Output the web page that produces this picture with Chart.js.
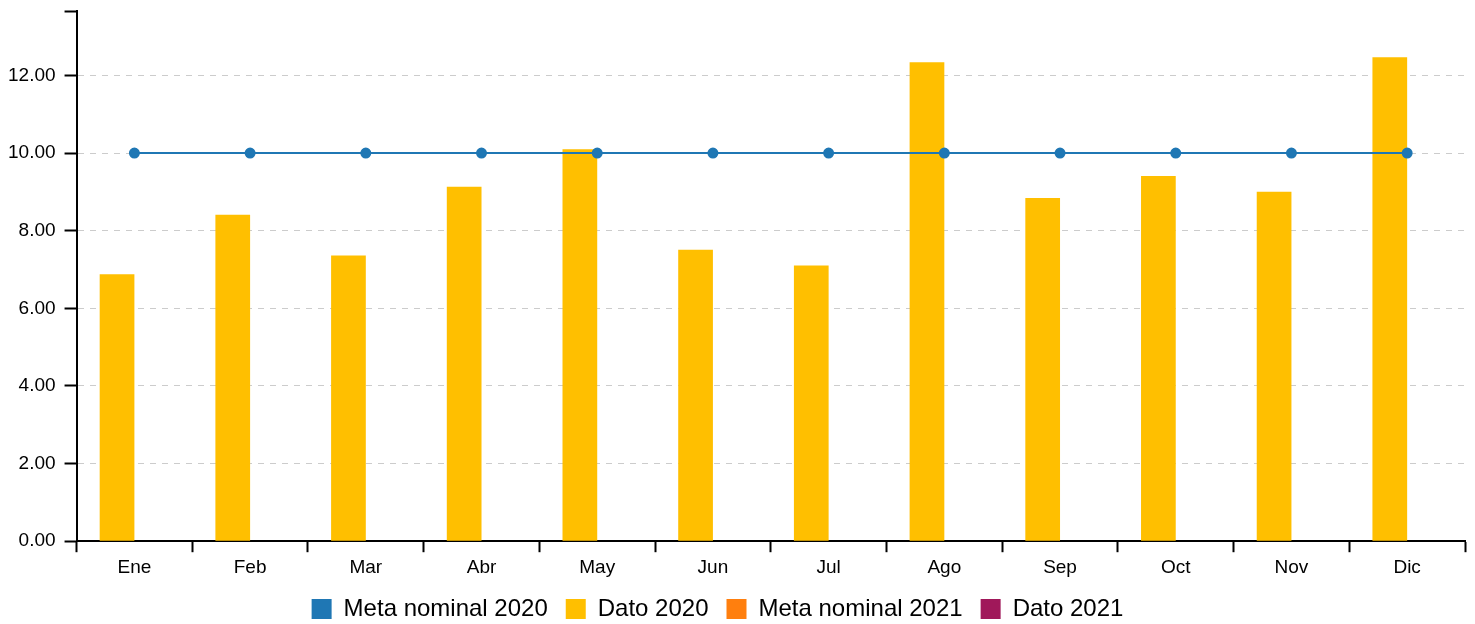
<!DOCTYPE html>
<html>
<head>
<meta charset="utf-8">
<script src="https://cdn.jsdelivr.net/npm/chart.js@4"></script>
<style>
  html, body { margin: 0; padding: 0; background: #fff; }
  #wrap { width: 1475px; height: 624px; }
</style>
</head>
<body>
<div id="wrap"><canvas id="metaChart"></canvas></div>
<script>
var meses = ['Ene', 'Feb', 'Mar', 'Abr', 'May', 'Jun', 'Jul', 'Ago', 'Sep', 'Oct', 'Nov', 'Dic'];
var meta2020 = [10, 10, 10, 10, 10, 10, 10, 10, 10, 10, 10, 10];
var dato2020 = [6.88, 8.41, 7.36, 9.13, 10.10, 7.51, 7.10, 12.34, 8.84, 9.41, 9.00, 12.47];
var meta2021 = [null, null, null, null, null, null, null, null, null, null, null, null];
var dato2021 = [null, null, null, null, null, null, null, null, null, null, null, null];
var yTicks = [0, 2, 4, 6, 8, 10, 12];
var yMax = 13.66;

Chart.defaults.font.family = '"Liberation Sans", Arial, sans-serif';
Chart.defaults.color = '#000';

// legend is centred a bit left of the canvas centre in the original
var legendShift = {
    id: 'legendShift',
    afterLayout: function (chart) {
        chart.legend.right -= 29;
    }
};

var ctx = document.getElementById('metaChart');
var metaChart = new Chart(ctx, {
    plugins: [legendShift],
    data: {
        labels: meses,
        datasets: [{
            type: 'line',
            label: 'Meta nominal 2020',
            data: meta2020,
            borderColor: '#1f77b4',
            backgroundColor: '#1f77b4',
            borderWidth: 2,
            pointRadius: 4.5,
            pointHoverRadius: 4.5,
            order: 0
        }, {
            type: 'bar',
            label: 'Dato 2020',
            data: dato2020,
            backgroundColor: '#ffbf00',
            order: 1
        }, {
            type: 'line',
            label: 'Meta nominal 2021',
            data: meta2021,
            borderColor: '#ff7f0e',
            backgroundColor: '#ff7f0e',
            order: 0
        }, {
            type: 'bar',
            label: 'Dato 2021',
            data: dato2021,
            backgroundColor: '#a0185a',
            order: 1
        }]
    },
    options: {
        responsive: true,
        maintainAspectRatio: false,
        animation: false,
        datasets: {
            bar: { categoryPercentage: 0.6, barPercentage: 1.0 }
        },
        layout: { padding: { top: 11, right: 10, left: -1, bottom: -7 } },
        plugins: {
            tooltip: { enabled: false },
            legend: {
                position: 'bottom',
                labels: {
                    boxWidth: 20,
                    boxHeight: 20,
                    padding: 18,
                    font: { size: 24 },
                    generateLabels: function (chart) {
                        return chart.data.datasets.map(function (ds, i) {
                            return {
                                text: ds.label,
                                fillStyle: ds.backgroundColor,
                                strokeStyle: ds.backgroundColor,
                                lineWidth: 0,
                                datasetIndex: i
                            };
                        });
                    }
                }
            }
        },
        scales: {
            x: {
                offset: true,
                afterFit: function (scale) {
                    scale.height -= 4;
                },
                grid: {
                    offset: true,
                    drawOnChartArea: false,
                    drawTicks: true,
                    tickLength: 11,
                    tickColor: '#000',
                    tickWidth: 2
                },
                border: { color: '#000', width: 2 },
                ticks: { font: { size: 19 }, padding: 4 }
            },
            y: {
                min: 0,
                max: yMax,
                afterBuildTicks: function (scale) {
                    scale.ticks = yTicks.concat([yMax]).map(function (v) { return { value: v }; });
                },
                afterFit: function (scale) {
                    scale.paddingTop = 0;
                },
                grid: {
                    color: function (c) {
                        return (c.tick && c.tick.value === yMax) ? 'rgba(0,0,0,0)' : '#cccccc';
                    },
                    lineWidth: 1,
                    tickLength: 12,
                    tickColor: '#000',
                    tickWidth: 2
                },
                border: { color: '#000', width: 2, dash: [6, 6] },
                ticks: {
                    font: { size: 19 },
                    padding: 9,
                    callback: function (v) {
                        return yTicks.indexOf(v) >= 0 ? v.toFixed(2) : '';
                    }
                }
            }
        }
    }
});
</script>
</body>
</html>
